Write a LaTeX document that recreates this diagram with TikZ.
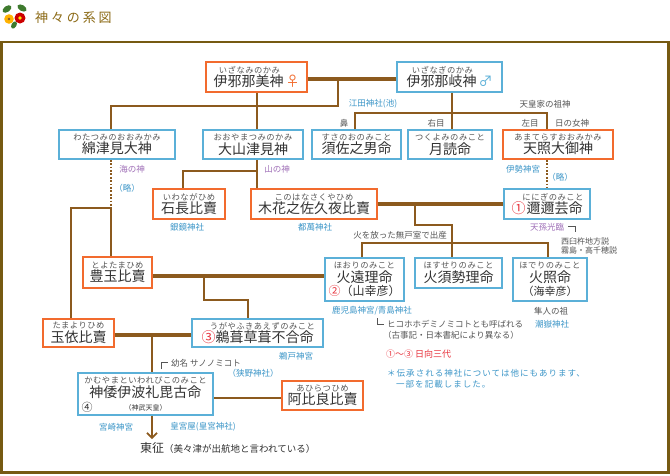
\documentclass[tikz,border=0pt]{standalone}
\usepackage{fontspec}
\setmainfont{Noto Sans CJK JP}
\newfontfamily\rubyfont[LetterSpace=6]{Noto Sans CJK JP}
\newfontfamily\wideCJK[LetterSpace=12]{Noto Sans CJK JP}
\newfontfamily\titlefont[LetterSpace=22]{Noto Sans CJK JP}
\usetikzlibrary{calc,arrows.meta}
\definecolor{lineb}{HTML}{8C5A1E}
\definecolor{framec}{HTML}{765A12}
\definecolor{orangeb}{HTML}{F26B2E}
\definecolor{blueb}{HTML}{5BB0D8}
\definecolor{bluet}{HTML}{3C96C8}
\definecolor{purplet}{HTML}{A070B8}
\definecolor{redc}{HTML}{E8323C}
\definecolor{grayt}{HTML}{555555}
\definecolor{txt}{HTML}{333333}
\definecolor{titlec}{HTML}{8B6914}
\definecolor{leafg}{HTML}{3E7A2E}
\newcommand{\rbf}{\rubyfont\fontsize{8.3}{8.5}\selectfont\color{grayt}}
\begin{document}
\begin{tikzpicture}[x=1pt,y=-1pt,
  box/.style={draw, line width=1.6pt, fill=white, inner sep=0pt, align=center,
    text=txt, minimum height=30pt, font=\fontsize{14}{13.5}\selectfont},
  fem/.style={box, draw=orangeb},
  mal/.style={box, draw=blueb},
  lab/.style={inner sep=0pt, font=\fontsize{8.5}{10}\selectfont},
  blab/.style={lab, text=bluet},
  glab/.style={lab, text=grayt},
  plab/.style={lab, text=purplet},
  rlab/.style={lab, text=redc},
  kin/.style={draw=lineb, line width=1.7pt},
  couple/.style={draw=lineb, line width=3.5pt},
  dots/.style={kin, dash pattern=on 1.7pt off 1.7pt}]
\useasboundingbox (0,0) rectangle (670,475);
\fill[white] (0,0) rectangle (670,475);
% header icon
\fill[leafg, rotate around={35:(7,9)}] (7,9) ellipse (5 and 3);
\fill[leafg, rotate around={-30:(22,8)}] (22,8) ellipse (5 and 3);
\fill[leafg, rotate around={60:(14,25)}] (14,25) ellipse (4 and 2.5);
\fill[orange!60!yellow] (9,19) circle (4.8);
\fill[brown!70!black] (9,19) circle (1.3);
\fill[red!80!black] (20,18) circle (5.5);
\fill[yellow!85!orange] (20,18) circle (1.8);
\node[anchor=west, text=titlec, inner sep=0pt] (title) at (35,18) {\titlefont\fontsize{13}{14}\selectfont 神々の系図};
% frame
\draw[framec, line width=2.5pt] (1.5,42) rectangle (668.5,472.5);

% ---- boxes ----
\node[fem, minimum width=101pt] (izanami) at (256.5,77)
  {{\rbf いざなみのかみ\kern14pt}\\伊邪那美神{\color{orangeb}\kern2pt\fontsize{14}{13.5}\selectfont ♀}};
\node[mal, minimum width=105pt] (izanagi) at (449.5,77)
  {{\rbf いざなぎのかみ\kern14pt}\\伊邪那岐神{\color{blueb}\kern2pt\fontsize{14}{13.5}\selectfont ♂}};
\node[mal, minimum width=116pt, minimum height=29pt] (watatsumi) at (117,144.5)
  {{\rbf わたつみのおおみかみ}\\綿津見大神};
\node[mal, minimum width=100pt, minimum height=29pt] (ooyama) at (253,144.5)
  {{\rbf おおやまつみのかみ}\\大山津見神};
\node[mal, minimum width=89pt, minimum height=29pt] (susanoo) at (356.5,144.5)
  {{\rbf すさのおのみこと}\\須佐之男命};
\node[mal, minimum width=84pt, minimum height=29pt] (tsukuyomi) at (450,144.5)
  {{\rbf つくよみのみこと}\\月読命};
\node[fem, minimum width=110pt, minimum height=29pt] (amaterasu) at (558,144.5)
  {{\rbf あまてらすおおみかみ}\\天照大御神};
\node[fem, minimum width=72pt] (iwanaga) at (189,204)
  {{\rbf いわながひめ}\\石長比賣};
\node[fem, minimum width=126pt] (konohana) at (314,204)
  {{\rbf このはなさくやひめ}\\木花之佐久夜比賣};
\node[mal, minimum width=86pt] (ninigi) at (547,204)
  {{\kern12pt\rbf ににぎのみこと}\\{\color{redc}①}\kern1pt 邇邇芸命};
\node[fem, minimum width=69pt, minimum height=31pt] (toyotama) at (117.5,272.5)
  {{\rbf とよたまひめ}\\豊玉比賣};
\node[mal, minimum width=79pt, minimum height=43pt] (hoori) at (364.5,279.5)
  {{\rbf ほおりのみこと}\\火遠理命\\{\fontsize{12}{13.5}\selectfont{\color{redc}②}（山幸彦）}};
\node[mal, minimum width=87pt] (hosuseri) at (458.5,273)
  {{\rbf ほすせりのみこと}\\火須勢理命};
\node[mal, minimum width=74pt, minimum height=43pt] (hoderi) at (550,279.5)
  {{\rbf ほでりのみこと}\\火照命\\{\fontsize{11}{13.5}\selectfont（海幸彦）}};
\node[fem, minimum width=71pt, minimum height=28pt] (tamayori) at (78.5,333)
  {{\rbf たまよりひめ}\\玉依比賣};
\node[mal, minimum width=131pt, minimum height=28pt] (ugaya) at (257.5,333)
  {{\kern10pt\rbf うがやふきあえずのみこと}\\{\color{redc}③}鵜葺草葺不合命};
\node[mal, minimum width=135pt, minimum height=42pt] (jimmu) at (145.5,394)
  {{\rbf かむやまといわれびこのみこと}\\神倭伊波礼毘古命\\{\fontsize{7}{11}\selectfont（神武天皇）}};
\node[text=txt, inner sep=0pt] (four) at (87,407) {\fontsize{11}{12}\selectfont ④};
\node[fem, minimum width=81pt, minimum height=29pt] (ahira) at (322.5,395.5)
  {{\rbf あひらつひめ}\\阿比良比賣};

% ---- connectors ----
\draw[couple] ($(izanami.east)+(0,2)$) -- ($(izanagi.west)+(0,2)$);
\draw[couple] (konohana.east) -- (ninigi.west);
\draw[couple] ($(toyotama.east)+(0,3.5)$) -- ($(hoori.west)+(0,-3.5)$);
\draw[couple] ($(tamayori.east)+(0,2)$) -- ($(ugaya.west)+(0,2)$);

\coordinate (j1) at (338,79);
\coordinate (j2) at (111,106);
\draw[kin] (j1) |- (j2) -- (j2 |- watatsumi.north);
\coordinate (j0) at (257,92);
\draw[kin] (j0 |- izanami.south) -- (j0 |- ooyama.north);
\draw[kin] ($(izanagi.south)+(2.5,0)$) -- ($(izanagi.south |- tsukuyomi.north)+(2.5,0)$);
\coordinate (j3) at (452,113);
\draw[kin] ($(susanoo.north)+(-1.5,0)$) |- (j3) -| ($(amaterasu.north)+(-11,0)$);
\draw[dots] (ninigi.north |- amaterasu.south) -- (ninigi.north);

\coordinate (j4) at (257,171);
\draw[kin] (j4 |- ooyama.south) -- (j4 |- konohana.north);
\draw[kin] (j4) -| ($(iwanaga.north)+(-6,0)$);

\coordinate (j5) at (111,208);
\draw[dots] (j5 |- watatsumi.south) -- (j5);
\draw[kin] (j5) -- (j5 |- toyotama.north);
\draw[kin] (j5) -| ($(tamayori.north)+(-7.5,0)$);

\coordinate (j6) at (415,204);
\coordinate (j7) at (452,225);
\draw[kin] (j6) |- (j7) -- (j7 |- hosuseri.north);
\coordinate (j8) at (452,243);
\draw[kin] ($(hoori.north)+(-2.5,0)$) |- (j8) -| ($(hoderi.north)+(-2,0)$);

\coordinate (j9) at (204,276);
\coordinate (j10) at (248,300);
\draw[kin] (j9) |- (j10) -- (j10 |- ugaya.north);

\coordinate (j11) at (152,335);
\draw[kin] (j11) -- (j11 |- jimmu.north);
\draw[kin] ($(ahira.west)+(0,2.5)$) -- ($(jimmu.east |- ahira.west)+(0,2.5)$);

\node[anchor=west, inner sep=0pt, text=txt] (tosei) at (140,448)
  {{\fontsize{12}{14}\selectfont 東征}{\fontsize{9.5}{12}\selectfont（美々津が出航地と言われている）}};
\coordinate (arrowend) at (152,439);
\draw[kin, -{Straight Barb[length=5pt,width=10pt]}] (j11 |- jimmu.south) -- (arrowend);

% ---- labels ----
\node[blab] (eda) at (373,104) {江田神社(池)};
\node[glab] (sojin) at (545,104) {天皇家の祖神};
\node[glab] (hana) at (344,123) {鼻};
\node[glab] (migi) at (436,123) {右目};
\node[glab] (hidari) at (530,123) {左目};
\node[glab] (megami) at (572,123) {日の女神};
\node[plab] (umi) at (132,169) {海の神};
\node[blab] (ryaku1) at (127,188) {（略）};
\node[plab] (yama) at (277,169) {山の神};
\node[blab] (ise) at (523,169) {伊勢神宮};
\node[blab] (ryaku2) at (560,177) {（略）};
\node[blab] (shiromi) at (187,227) {銀鏡神社};
\node[blab] (tsuma) at (315,227) {都萬神社};
\node[glab] (muro) at (400,235) {火を放った無戸室で出産};
\node[plab] (tenson) at (547,227) {天孫光臨};
\draw[grayt, line width=0.8pt] (568,226) -- (575,226) -- (575,232);
\node[glab, anchor=west, font=\fontsize{8}{9}\selectfont] (nishi) at (561,241) {西臼杵地方説};
\node[glab, anchor=west, font=\fontsize{8}{9}\selectfont] (kiri) at (561,250) {霧島・高千穂説};
\node[blab] (kago) at (372,311) {鹿児島神宮/青島神社};
\draw[grayt, line width=0.8pt] (377,318) -- (377,324) -- (384,324);
\node[glab, anchor=west] (hiko) at (387,324) {ヒコホホデミノミコトとも呼ばれる};
\node[glab] (kojiki) at (451,335) {（古事記・日本書紀により異なる）};
\node[glab] (hayato) at (551,311) {隼人の祖};
\node[blab] (shiotake) at (552,324) {潮嶽神社};
\node[blab] (udo) at (296,356) {鵜戸神宮};
\draw[grayt, line width=0.8pt] (161,369) -- (161,362) -- (168,362);
\node[glab, anchor=west] (yomei) at (171,363) {幼名 サノノミコト};
\node[blab] (sano) at (253,373) {（狭野神社）};
\node[blab] (miyazaki) at (116,427) {宮崎神宮};
\node[blab] (kogu) at (203,427) {皇宮屋(皇宮神社)};
\node[rlab, anchor=west, font=\fontsize{9}{10}\selectfont] (hyuga) at (386,354) {①～③ 日向三代};
\node[blab, anchor=west, font=\wideCJK\fontsize{8.5}{10}\selectfont] (note1) at (387,373) {＊伝承される神社については他にもあります、};
\node[blab, anchor=west, font=\wideCJK\fontsize{8.5}{10}\selectfont] (note2) at (396,384) {一部を記載しました。};
\end{tikzpicture}
\end{document}
